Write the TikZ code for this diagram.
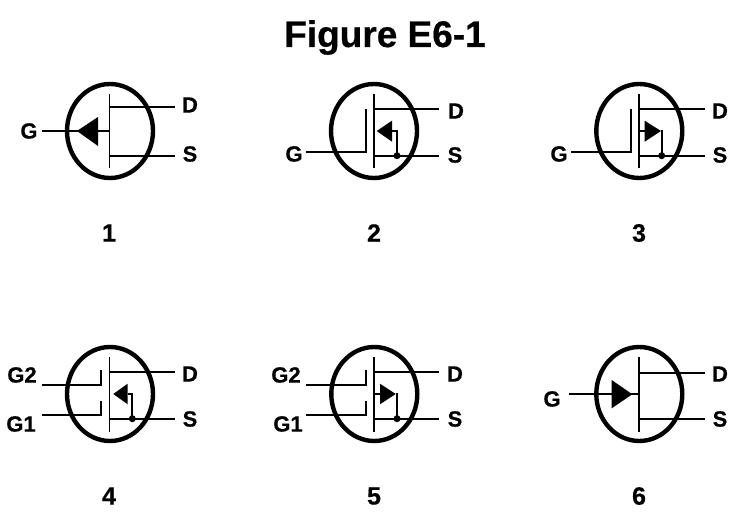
\documentclass[tikz,border=0pt]{standalone}
\usepackage{fontspec}
\setmainfont{Liberation Sans}[BoldFeatures={FakeBold=0.5}]
\usetikzlibrary{shapes.geometric}
\tikzset{
  ring/.style={draw=black,line width=4.4pt,shape=ellipse,inner sep=0pt,outer sep=0pt,minimum width=86pt,minimum height=94pt},
  wire/.style={draw=black,line width=1.7pt},
  solder/.style={fill=black,shape=circle,inner sep=0pt,outer sep=0pt,minimum size=7pt},
  lead/.style={font=\fontsize{22}{22}\selectfont\bfseries,inner sep=0pt,text=black},
  index/.style={font=\fontsize{25}{25}\selectfont\bfseries,inner sep=0pt,text=black},
  heading/.style={font=\fontsize{37}{37}\selectfont\bfseries,inner sep=0pt,text=black}
}
\begin{document}
\begin{tikzpicture}[x=1pt,y=-1pt]
\useasboundingbox (0,0) rectangle (737,529);
\fill[white] (0,0) rectangle (737,529);
\node[heading,anchor=base] (title) at (385,47) {Figure E6-1};

% --- 1
\node[ring] (r1) at (110,131) {};
\path[wire] (109.5,94) -- (109.5,168);
\path[wire] (109.5,106.7) -- (175,106.7);
\path[wire] (109.5,155.7) -- (175,155.7);
\path[wire] (41.5,131) -- (109.5,131);
\fill (77,131) -- (98,117) -- (98,146) -- cycle;
\node[lead] (g1) at (29,131) {G};
\node[lead] (d1) at (190,105) {D};
\node[lead] (s1) at (190,154) {S};
\node[index] (n1) at (109,233) {1};

% --- 2
\node[ring] (r2) at (374,131) {};
\path[wire] (374,94) -- (374,168);
\path[wire] (374,109.3) -- (439,109.3);
\path[wire] (374,155.7) -- (439,155.7);
\path[wire] (306,152.3) -- (366,152.3) -- (366,109);
\fill (376.7,131) -- (392,120.7) -- (392,141.7) -- cycle;
\path[wire] (392,131) -- (397,131) -- (397,155.7);
\node[solder] (j2) at (397,155.7) {};
\node[lead] (g2) at (294,154) {G};
\node[lead] (d2) at (456,111) {D};
\node[lead] (s2) at (455,155) {S};
\node[index] (n2) at (374,233) {2};

% --- 3
\node[ring] (r3) at (639.3,131) {};
\path[wire] (639,94) -- (639,168);
\path[wire] (639,109.3) -- (704.7,109.3);
\path[wire] (639,155.7) -- (704.7,155.7);
\path[wire] (571,152.3) -- (631,152.3) -- (631,109);
\path[wire] (639,131) -- (645,131);
\fill (661,131) -- (644.7,120.7) -- (644.7,141.7) -- cycle;
\path[wire] (661,131) -- (661.7,131) -- (661.7,155.7);
\node[solder] (j3) at (661.7,155.7) {};
\node[lead] (g3) at (559,154) {G};
\node[lead] (d3) at (720,111) {D};
\node[lead] (s3) at (720,155) {S};
\node[index] (n3) at (639,233) {3};

% --- 4
\node[ring] (r4) at (110,394) {};
\path[wire] (109.5,357.3) -- (109.5,431.7);
\path[wire] (109.5,372.3) -- (175,372.3);
\path[wire] (109.5,418.7) -- (175,418.7);
\path[wire] (41.7,385.3) -- (101,385.3) -- (101,370);
\path[wire] (41.7,415.3) -- (101,415.3) -- (101,400.7);
\fill (113.3,394) -- (127.7,383.7) -- (127.7,404.3) -- cycle;
\path[wire] (127.7,394) -- (132.3,394) -- (132.3,418.7);
\node[solder] (j4) at (132.3,418.7) {};
\node[lead] (g42) at (22,375) {G2};
\node[lead] (g41) at (21,424) {G1};
\node[lead] (d4) at (190,374) {D};
\node[lead] (s4) at (190,419) {S};
\node[index] (n4) at (109,496) {4};

% --- 5
\node[ring] (r5) at (374.3,394) {};
\path[wire] (374,357.3) -- (374,431.7);
\path[wire] (374,372.3) -- (439.3,372.3);
\path[wire] (374,418.7) -- (439.3,418.7);
\path[wire] (306,385.3) -- (366,385.3) -- (366,370);
\path[wire] (306,415.3) -- (366,415.3) -- (366,400.7);
\path[wire] (374,394) -- (380,394);
\fill (395.7,394) -- (380,383.7) -- (380,404.3) -- cycle;
\path[wire] (395.7,394) -- (397,394) -- (397,418.7);
\node[solder] (j5) at (397,418.7) {};
\node[lead] (g52) at (286,375) {G2};
\node[lead] (g51) at (288,424) {G1};
\node[lead] (d5) at (455,374) {D};
\node[lead] (s5) at (455,419) {S};
\node[index] (n5) at (374,496) {5};

% --- 6
\node[ring] (r6) at (639.3,394) {};
\path[wire] (639,357.3) -- (639,431.7);
\path[wire] (639,372.7) -- (704.7,372.7);
\path[wire] (639,418.7) -- (704.7,418.7);
\path[wire] (568.7,394.3) -- (639,394.3);
\fill (632.3,394.3) -- (611.7,380) -- (611.7,408.3) -- cycle;
\node[lead] (g6) at (552,399) {G};
\node[lead] (d6) at (720,374) {D};
\node[lead] (s6) at (720,419) {S};
\node[index] (n6) at (639,496) {6};
\end{tikzpicture}
\end{document}
